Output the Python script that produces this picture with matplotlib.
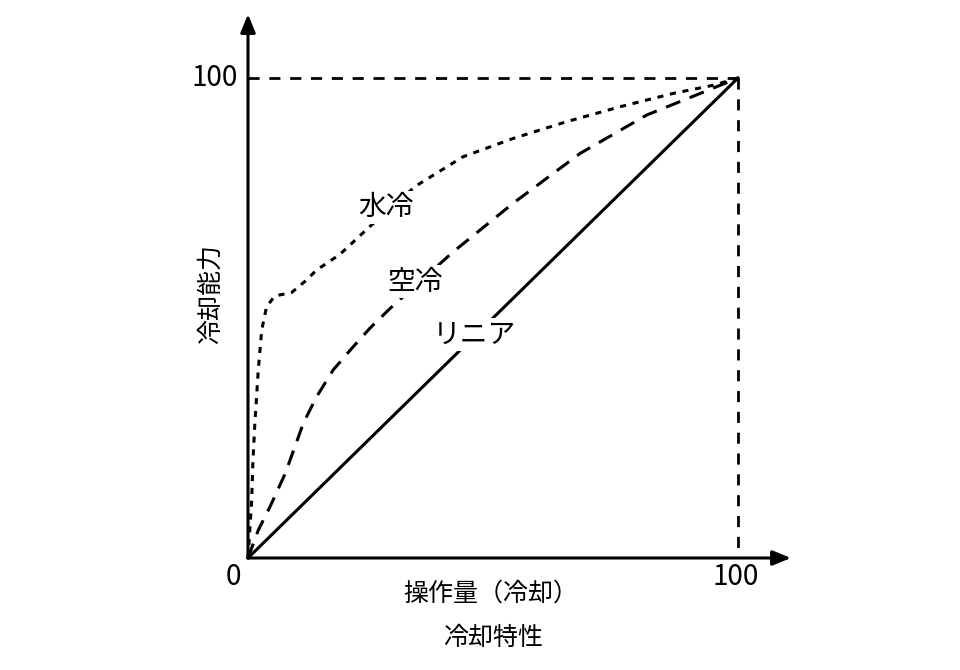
import numpy as np
import matplotlib
matplotlib.use("Agg")
import matplotlib.pyplot as plt

plt.rcParams['font.family'] = ['Noto Sans CJK JP', 'DejaVu Sans']

# 水冷 (dotted)
water_x = [0, 0.5, 0.75, 1.0, 1.4, 2.1, 2.8, 3.8, 5.5, 8.9, 11.6, 14.0, 18.7, 24.8,
           34.1, 43.9, 54.1, 65.0, 75.9, 86.8, 95.0, 100]
water_y = [0, 8.0, 12.0, 20.0, 28.1, 39.2, 47.5, 52.4, 54.6, 55.3, 57.6, 60.0, 63.2, 69.0,
           77.4, 83.6, 87.4, 90.9, 94.0, 96.8, 98.5, 100]
# 空冷 (dashed)
air_x = [0, 2.1, 4.5, 7.6, 11.3, 14.0, 17.4, 21.2, 24.9, 29.0, 41.9, 54.1, 67.8, 81.4, 91.6, 100]
air_y = [0, 5.8, 10.7, 17.6, 28.1, 33.6, 39.2, 43.7, 47.9, 52.0, 63.8, 73.9, 84.3, 92.3, 96.5, 100]
# リニア
lin_x = [0, 100]
lin_y = [0, 100]

labels = ['水冷', '空冷', 'リニア']
label_pos = [(28.2, 73.1), (34.0, 57.6), (46.2, 46.5)]

fig = plt.figure(figsize=(9.6, 6.7), dpi=100)
ax = fig.add_axes([248/960, (670-558)/670, 490/960, 480/670])
ax.set_xlim(0, 100)
ax.set_ylim(0, 100)
ax.axis('off')

ax.plot(water_x, water_y, color='black', lw=2.2, linestyle=(0, (2.0, 2.2)), clip_on=False)
ax.plot(air_x, air_y, color='black', lw=2.2, linestyle=(0, (5, 3.3)), clip_on=False)
ax.plot(lin_x, lin_y, color='black', lw=2.2, clip_on=False)

# 100 の補助線
ax.plot([0, 100], [100, 100], color='black', lw=2, linestyle=(0, (4, 3.5)), clip_on=False)
ax.plot([100, 100], [100, 0], color='black', lw=2, linestyle=(0, (4, 3.5)), clip_on=False)

# 軸（矢印）
ax.annotate('', xy=(110.8, 0), xytext=(0, 0), annotation_clip=False,
            arrowprops=dict(arrowstyle='-|>,head_length=1.1,head_width=0.45', color='black', lw=2.2,
                            shrinkA=0, shrinkB=0))
ax.annotate('', xy=(0, 113.3), xytext=(0, 0), annotation_clip=False,
            arrowprops=dict(arrowstyle='-|>,head_length=1.1,head_width=0.45', color='black', lw=2.2,
                            shrinkA=0, shrinkB=0))

for txt, (x, y) in zip(labels, label_pos):
    ax.text(x, y, txt, fontsize=20, ha='center', va='center',
            bbox=dict(facecolor='white', edgecolor='none', pad=1))

ax.text(-2, 100, '100', fontsize=20, ha='right', va='center')
ax.text(-3, -4, '0', fontsize=20, ha='center', va='center')
ax.text(99.5, -4, '100', fontsize=20, ha='center', va='center')
ax.text(49.5, -7.5, '操作量（冷却）', fontsize=18, ha='center', va='center')
ax.text(50, -16.7, '冷却特性', fontsize=18, ha='center', va='center')
ax.text(-7.5, 55, '冷却能力', fontsize=18, ha='center', va='center', rotation=90)

fig.savefig('out.png', dpi=100)
